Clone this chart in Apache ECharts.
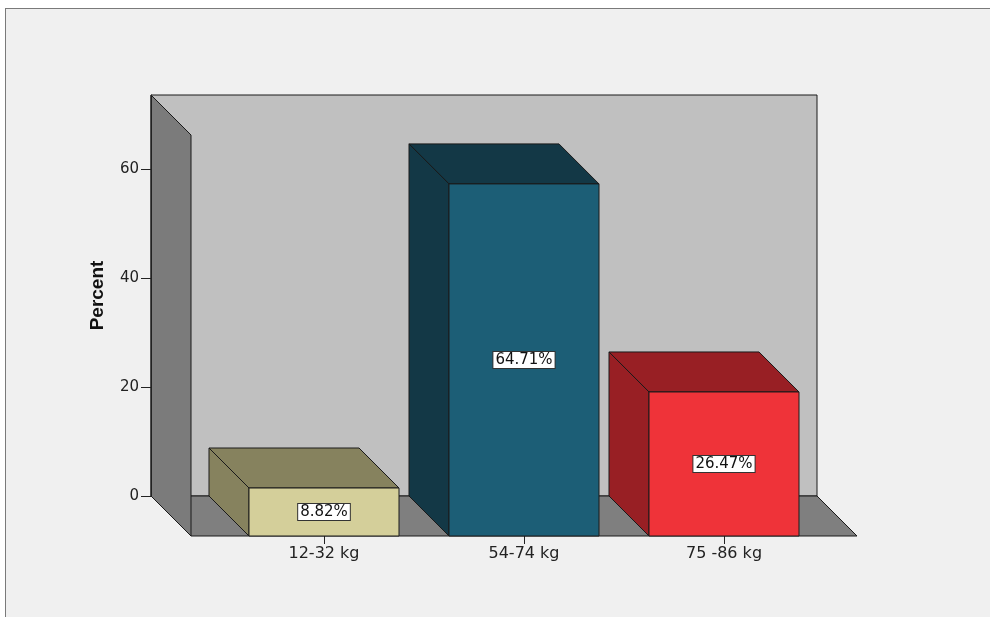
<!DOCTYPE html>
<html>
<head>
<meta charset="utf-8">
<title>Percent by weight group</title>
<script src="https://cdn.jsdelivr.net/npm/echarts@6/dist/echarts.min.js"></script>
<style>
  html, body { margin: 0; padding: 0; background: #ffffff; }
  #wrap { position: relative; width: 990px; height: 617px; overflow: hidden; background: #ffffff; }
  #panel {
    position: absolute; left: 5px; top: 8px; width: 1000px; height: 700px;
    background: #f0f0f0; border: 1.5px solid #7a7a7a;
  }
  #chart { position: absolute; left: 0; top: 0; width: 990px; height: 617px; }
</style>
</head>
<body>
<div id="wrap">
  <div id="panel"></div>
  <div id="chart"></div>
</div>
<script>
// Weight groups and their share of respondents
const categories = ['12-32 kg', '54-74 kg', '75 -86 kg'];
const percents = [8.82, 64.71, 26.47];

// Value axis
const yMin = 0;
const yMax = 73.7;
const yInterval = 20;

// Horizontal extent of the back wall, in category units
const xMin = -0.665;
const xMax = 2.665;

// Face colours of each box: front, and the darker top/side
const frontColors = ['#d4cf9a', '#1c5e76', '#ef3339'];
const shadeColors = ['#86825e', '#133846', '#981f24'];

const DEPTH = 40;          // pixel offset of the front plane from the back plane
const BAR_FRACTION = 0.75; // bar width relative to one category step
const EDGE = '#1a1a1a';
const FONT = 'DejaVu Sans';

const chart = echarts.init(document.getElementById('chart'), null, { renderer: 'canvas' });

// Back wall, floor and left side wall of the 3-D frame
function renderFrame(params, api) {
  const tl = api.coord([xMin, yMax]);
  const br = api.coord([xMax, yMin]);
  const d = DEPTH;
  return {
    type: 'group',
    children: [
      {
        type: 'rect',
        shape: { x: tl[0], y: tl[1], width: br[0] - tl[0], height: br[1] - tl[1] },
        style: { fill: '#c0c0c0', stroke: EDGE, lineWidth: 1 }
      },
      {
        type: 'polygon',
        shape: { points: [[tl[0], br[1]], [br[0], br[1]], [br[0] + d, br[1] + d], [tl[0] + d, br[1] + d]] },
        style: { fill: '#7f7f7f', stroke: EDGE, lineWidth: 1 }
      },
      {
        type: 'polygon',
        shape: { points: [[tl[0], tl[1]], [tl[0] + d, tl[1] + d], [tl[0] + d, br[1] + d], [tl[0], br[1]]] },
        style: { fill: '#7b7b7b', stroke: EDGE, lineWidth: 1 }
      }
    ]
  };
}

// One extruded box per category, with its percentage in a white tag
function renderBox(params, api) {
  const i = api.value(0);
  const v = api.value(1);
  const base = api.coord([i, 0]);
  const top = api.coord([i, v]);
  const w = api.size([1, 0])[0] * BAR_FRACTION;
  const d = DEPTH;
  const l = base[0] - w / 2, r = base[0] + w / 2;
  const t = top[1], b = base[1];
  return {
    type: 'group',
    children: [
      {
        type: 'polygon',
        shape: { points: [[l, t], [r, t], [r + d, t + d], [l + d, t + d]] },
        style: { fill: shadeColors[i], stroke: EDGE, lineWidth: 1 }
      },
      {
        type: 'polygon',
        shape: { points: [[l, t], [l + d, t + d], [l + d, b + d], [l, b]] },
        style: { fill: shadeColors[i], stroke: EDGE, lineWidth: 1 }
      },
      {
        type: 'rect',
        shape: { x: l + d, y: t + d, width: w, height: b - t },
        style: { fill: frontColors[i], stroke: EDGE, lineWidth: 1 }
      },
      {
        type: 'text',
        style: {
          text: v.toFixed(2) + '%',
          x: base[0] + d,
          y: (t + b) / 2 + d,
          align: 'center',
          verticalAlign: 'middle',
          fontFamily: FONT,
          fontSize: 15,
          fill: '#111',
          backgroundColor: '#ffffff',
          borderColor: '#333',
          borderWidth: 1,
          padding: [1, 2, 0, 2]
        }
      }
    ]
  };
}

const option = {
  backgroundColor: 'transparent',
  animation: false,
  grid: [
    // back plane: carries the value axis
    { left: 151, top: 95, width: 666, height: 401 },
    // front plane: carries the category labels
    { left: 224, top: 135, width: 600, height: 401 }
  ],
  xAxis: [
    { gridIndex: 0, type: 'value', min: xMin, max: xMax, show: false },
    {
      gridIndex: 1,
      type: 'category',
      data: categories,
      axisLine: { show: false },
      axisTick: { show: true, alignWithLabel: true, length: 8, lineStyle: { color: '#222', width: 1 } },
      axisLabel: { margin: 10, fontFamily: FONT, fontSize: 16, color: '#222' },
      splitLine: { show: false }
    }
  ],
  yAxis: [
    {
      gridIndex: 0,
      type: 'value',
      min: yMin,
      max: yMax,
      interval: yInterval,
      name: 'Percent',
      nameLocation: 'middle',
      nameRotate: 90,
      nameGap: 44,
      nameTextStyle: {
        fontFamily: 'Liberation Sans',
        fontWeight: 'bold',
        fontSize: 19,
        color: '#111'
      },
      axisLine: { show: true, onZero: false, lineStyle: { color: '#222', width: 1 } },
      axisTick: { show: true, inside: false, length: 10, lineStyle: { color: '#222', width: 1 } },
      axisLabel: {
        margin: 12,
        fontFamily: FONT,
        fontSize: 15,
        color: '#222',
        showMaxLabel: false
      },
      splitLine: { show: false },
      z: 5
    },
    { gridIndex: 1, type: 'value', min: yMin, max: yMax, show: false }
  ],
  series: [
    {
      type: 'custom',
      name: 'frame',
      xAxisIndex: 0,
      yAxisIndex: 0,
      z: 1,
      silent: true,
      clip: false,
      renderItem: renderFrame,
      data: [[0, 0]]
    },
    {
      type: 'custom',
      name: 'Percent',
      xAxisIndex: 0,
      yAxisIndex: 0,
      z: 3,
      clip: false,
      renderItem: renderBox,
      encode: { x: 0, y: 1 },
      data: percents.map((p, i) => [i, p])
    }
  ]
};

chart.setOption(option);
</script>
</body>
</html>
